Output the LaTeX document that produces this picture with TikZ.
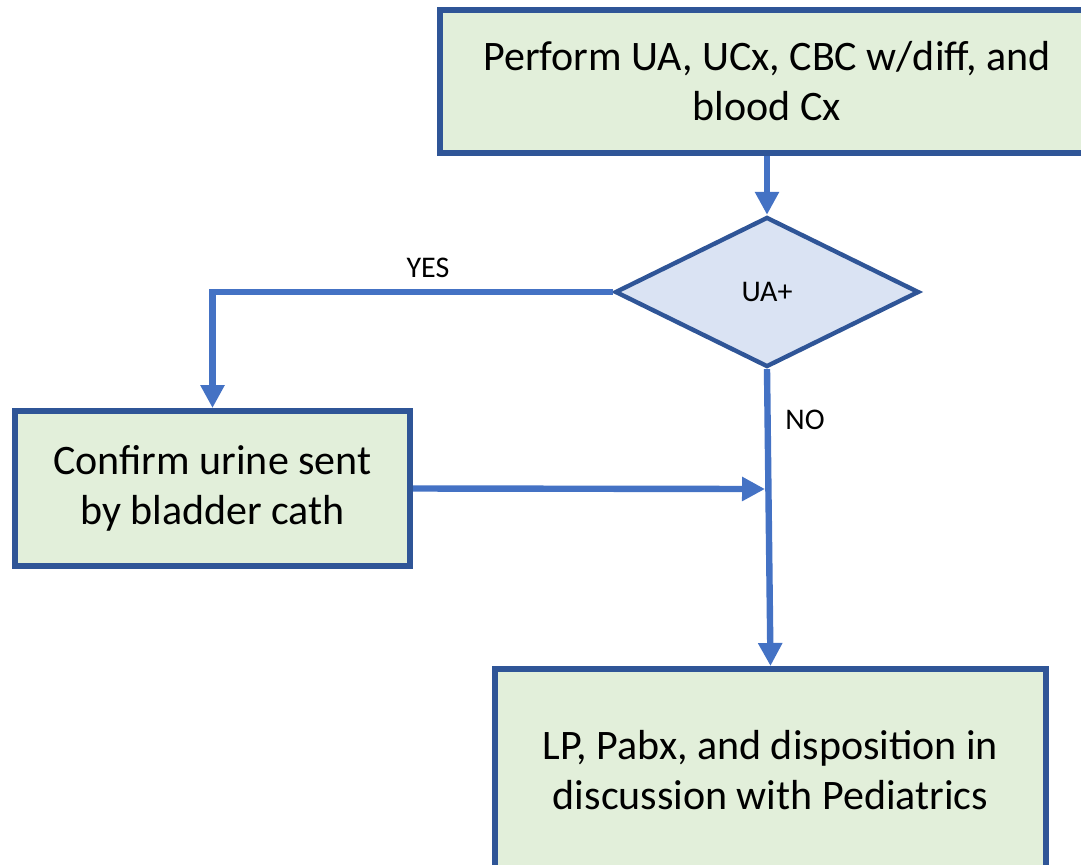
\documentclass[tikz,border=0pt]{standalone}
\usepackage{fontspec}
\setmainfont{Carlito}
\usetikzlibrary{shapes.geometric,arrows.meta}
\definecolor{boxfill}{HTML}{E2EFDA}
\definecolor{boxline}{HTML}{2F5597}
\definecolor{linkblue}{HTML}{4472C4}
\definecolor{decfill}{HTML}{DAE3F3}

\begin{document}
\begin{tikzpicture}[x=0.5pt,y=-0.5pt,
  stepbox/.style={rectangle, draw=boxline, fill=boxfill, line width=3pt, align=center, inner sep=0pt, font=\fontsize{21}{25}\selectfont},
  decision/.style={diamond, draw=boxline, fill=decfill, line width=2.2pt, inner sep=0pt, font=\fontsize{15}{18}\selectfont},
  link/.style={draw=linkblue, line width=3.2pt, -{Triangle[width=11.5pt,length=11.5pt]}},
  tag/.style={font=\fontsize{15}{18}\selectfont}]
 \useasboundingbox (0,0) rectangle (1081,864);
 % boxes
 \node[stepbox, minimum width=327pt, minimum height=71.5pt] (perform) at (767,81.5)
   {Perform UA, UCx, CBC w/diff, and\\blood Cx};
 \node[decision, minimum width=152pt, minimum height=75pt] (ua) at (767,292) {UA+};
 \node[stepbox, minimum width=197.5pt, minimum height=77.5pt] (confirm) at (212.5,488.5)
   {Confirm urine sent\\by bladder cath};
 \node[stepbox, minimum width=275.5pt, minimum height=101pt] (lp) at (770.5,770)
   {LP, Pabx, and disposition in\\discussion with Pediatrics};
 \coordinate (merge) at (765,489);
 % links
 \draw[link] (perform) -- (ua);
 \draw[link] (ua.west) -| (confirm.north);
 \draw[link] (ua.south) -- (lp.north);
 \draw[link] (confirm.east) -- (merge);
 \node[tag] (yes) at (428,268) {YES};
 \node[tag] (no) at (805,420) {NO};
\end{tikzpicture}
\end{document}
